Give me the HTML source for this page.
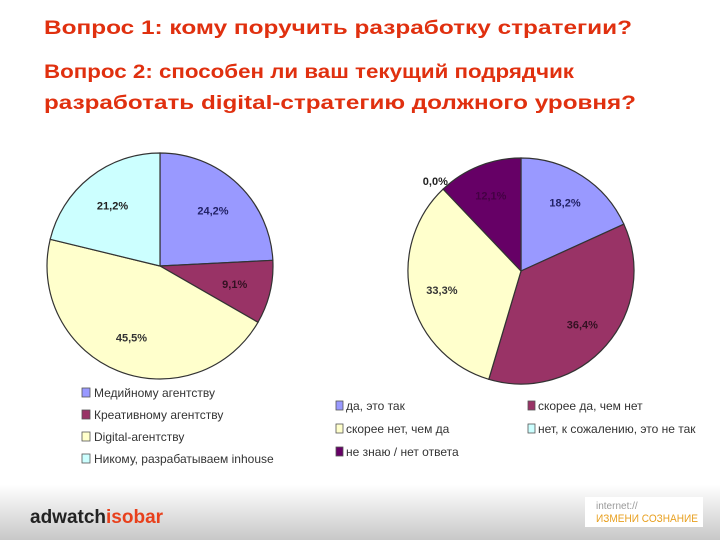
<!DOCTYPE html>
<html><head><meta charset="utf-8"><style>
body{margin:0;background:#fff;width:720px;height:540px;overflow:hidden;font-family:"Liberation Sans","Noto Sans CJK SC",sans-serif}
</style></head><body>
<svg width="720" height="540" xmlns="http://www.w3.org/2000/svg">
<defs>
<linearGradient id="foot" x1="0" y1="0" x2="0" y2="1"><stop offset="0" stop-color="#fff"/><stop offset="1" stop-color="#c8c8c8"/></linearGradient>
</defs>
<rect x="0" y="485" width="720" height="55" fill="url(#foot)"/>
<g fill="#e0300f" font-weight="bold" font-size="19">
<text x="44" y="34" textLength="588" lengthAdjust="spacingAndGlyphs">Вопрос  1: кому поручить разработку стратегии?</text>
<text x="44" y="78" textLength="530" lengthAdjust="spacingAndGlyphs">Вопрос 2: способен ли ваш текущий подрядчик</text>
<text x="44" y="109" textLength="592" lengthAdjust="spacingAndGlyphs">разработать digital-стратегию должного уровня?</text>
</g>
<g id="pie1"></g>
<g id="pie2"></g>
<g id="leg" font-size="12" fill="#333"></g>
<text x="30" y="523" font-size="19" font-weight="bold" fill="#222">adwatch<tspan fill="#e8401c">isobar</tspan></text>
<rect x="585" y="497" width="118" height="30" fill="#fff"/>
<text x="596" y="509" font-size="10" fill="#999">internet://</text>
<text x="596" y="522" font-size="11" fill="#e8a020" textLength="102" lengthAdjust="spacingAndGlyphs">ИЗМЕНИ СОЗНАНИЕ</text>
</svg>
<script>
const q1Labels=["Медийному агентству","Креативному агентству","Digital-агентству","Никому, разрабатываем inhouse"];
const q1Values=[24.2,9.1,45.5,21.2];
const q1Colors=["#9999ff","#993366","#ffffcc","#ccffff"];
const q2Labels=["да, это так","скорее да, чем нет","скорее нет, чем да","нет, к сожалению, это не так","не знаю / нет ответа"];
const q2Values=[18.2,36.4,33.3,0.0,12.1];
const q2Colors=["#9999ff","#993366","#ffffcc","#ccffff","#660066"];
const NS="http://www.w3.org/2000/svg";
function mk(t,a,p){const e=document.createElementNS(NS,t);for(const k in a)e.setAttribute(k,a[k]);p.appendChild(e);return e;}
function pie(g,cx,cy,r,vals,cols,lr,textFill){
 const tot=vals.reduce((a,b)=>a+b,0);let a0=0;
 vals.forEach((v,i)=>{
  const a1=a0+v/tot*2*Math.PI;
  const x0=cx+r*Math.sin(a0),y0=cy-r*Math.cos(a0),x1=cx+r*Math.sin(a1),y1=cy-r*Math.cos(a1);
  const large=(a1-a0)>Math.PI?1:0;
  if(v>0){
   const p=mk("path",{d:`M${cx},${cy}L${x0},${y0}A${r},${r} 0 ${large} 1 ${x1},${y1}Z`,fill:cols[i],stroke:"#333","stroke-width":"1.2"},g);
   
   
  }
  const am=(a0+a1)/2;let rr=r*lr;if(v===0)rr=r*1.1;
  const t=mk("text",{x:cx+rr*Math.sin(am),y:cy-rr*Math.cos(am)+4,"text-anchor":"middle","font-size":"11","font-weight":"bold",fill:textFill[i]},g);
  t.textContent=v.toFixed(1).replace(".",",")+"%";
  
  
  a0=a1;
 });
}
pie(document.getElementById("pie1"),160,266,113,q1Values,q1Colors,0.68,["#222266","#331122","#333","#222"]);
pie(document.getElementById("pie2"),521,271,113,q2Values,q2Colors,0.72,["#222266","#331122","#333","#222","#440044"]);
const leg=document.getElementById("leg");
q1Labels.forEach((l,i)=>{
 const y=397+i*22;
 const r=mk("rect",{x:82,y:y-9,width:8,height:9,fill:q1Colors[i],stroke:"#555","stroke-width":"0.8"},leg);
 
 
 const t=mk("text",{x:94,y:y},leg);t.textContent=l;
 
 
});
q2Labels.forEach((l,i)=>{
 const col=i%2,row=Math.floor(i/2);
 const x=col?528:336,y=410+row*23;
 const r=mk("rect",{x:x,y:y-9,width:7,height:9,fill:q2Colors[i],stroke:"#555","stroke-width":"0.8"},leg);
 
 
 const t=mk("text",{x:x+10,y:y},leg);t.textContent=l;
 
 
});
</script>
</body></html>
